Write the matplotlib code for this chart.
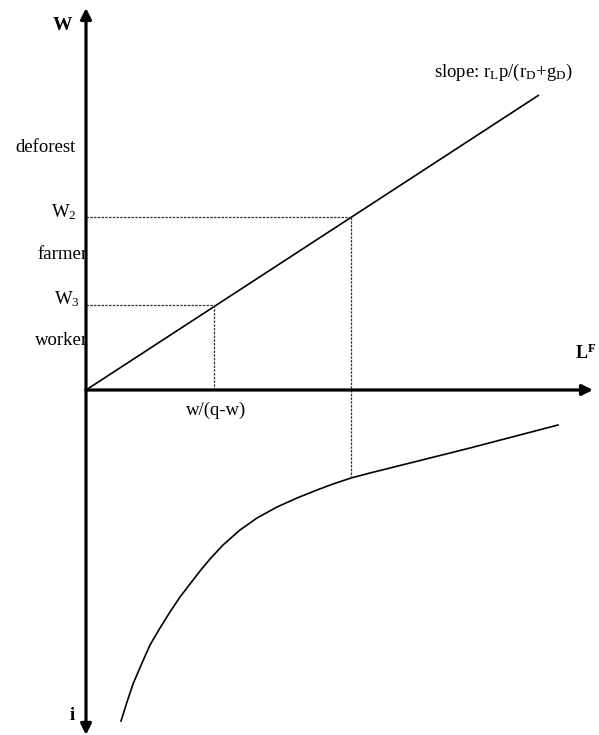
import matplotlib
matplotlib.use("Agg")
import matplotlib.pyplot as plt

plt.rcParams["font.family"] = ["Liberation Serif", "DejaVu Serif"]
plt.rcParams["mathtext.fontset"] = "custom"
plt.rcParams["mathtext.rm"] = "Liberation Serif"
plt.rcParams["mathtext.it"] = "Liberation Serif:italic"
plt.rcParams["mathtext.bf"] = "Liberation Serif:bold"

# diagram values (origin at the axes crossing)
line_x = [0.0, 4.53]
line_y = [0.0, 2.95]
w2_x, w2_y = 2.65, 1.73
w3_x, w3_y = 1.28, 0.85
curve_x = [0.35, 0.41, 0.47, 0.56, 0.64, 0.74, 0.84, 0.94, 1.04, 1.14, 1.24,
           1.37, 1.54, 1.71, 1.91, 2.11, 2.31, 2.47, 2.65, 2.84, 3.84, 4.72]
curve_y = [-3.31, -3.12, -2.94, -2.73, -2.55, -2.38, -2.22, -2.07, -1.94, -1.81, -1.69,
           -1.55, -1.40, -1.28, -1.17, -1.08, -1.00, -0.94, -0.88, -0.83, -0.58, -0.35]
axis_top, axis_bottom, axis_right = 3.82, -3.45, 5.07

fig = plt.figure(figsize=(5.99, 7.35), dpi=100)
ax = fig.add_axes([0, 0, 1, 1])
ax.set_xlim(-0.86, 5.13)
ax.set_ylim(-3.45, 3.90)
ax.axis("off")

# axes with arrow heads
ax.annotate("", xy=(0, axis_top), xytext=(0, axis_bottom + 0.001),
            arrowprops=dict(arrowstyle="<|-|>", lw=2.3, color="black",
                            mutation_scale=16, shrinkA=0, shrinkB=0))
ax.annotate("", xy=(axis_right, 0), xytext=(0, 0),
            arrowprops=dict(arrowstyle="-|>", lw=2.3, color="black",
                            mutation_scale=16, shrinkA=0, shrinkB=0))

ax.plot(line_x, line_y, color="black", lw=1.2, solid_capstyle="butt")
ax.plot(curve_x, curve_y, color="black", lw=1.2, solid_joinstyle="round")

dash = dict(color="#333333", lw=0.9, linestyle=(0, (2, 1)))
i2 = curve_x.index(w2_x)
ax.plot([0, w2_x], [w2_y, w2_y], **dash)
ax.plot([w2_x, w2_x], [w2_y, curve_y[i2]], **dash)
ax.plot([0, w3_x], [w3_y, w3_y], **dash)
ax.plot([w3_x, w3_x], [w3_y, 0], **dash)

fs = 13.5
ax.text(-0.24, 3.64, "W", fontsize=14, fontweight="bold", ha="center", va="center")
ax.text(-0.71, 2.42, "deforest", fontsize=fs, ha="left", va="center")
ax.text(-0.09, 1.78, r"W$_2$", fontsize=fs, ha="right", va="center")
ax.text(0.02, 1.35, "farmer", fontsize=fs, ha="right", va="center")
ax.text(-0.06, 0.91, r"W$_3$", fontsize=fs, ha="right", va="center")
ax.text(0.02, 0.49, "worker", fontsize=fs, ha="right", va="center")
ax.text(1.30, -0.20, "w/(q-w)", fontsize=fs, ha="center", va="center")
ax.text(5.10, 0.37, r"L$^\mathbf{F}$", fontsize=13, fontweight="bold", ha="right", va="center")
ax.text(4.87, 3.18, r"slope: r$_\mathrm{L}$p/(r$_\mathrm{D}$+g$_\mathrm{D}$)",
        fontsize=fs, ha="right", va="center")
ax.text(-0.14, -3.25, "i", fontsize=fs, fontweight="bold", ha="center", va="center")

fig.savefig("out.png", dpi=100)
